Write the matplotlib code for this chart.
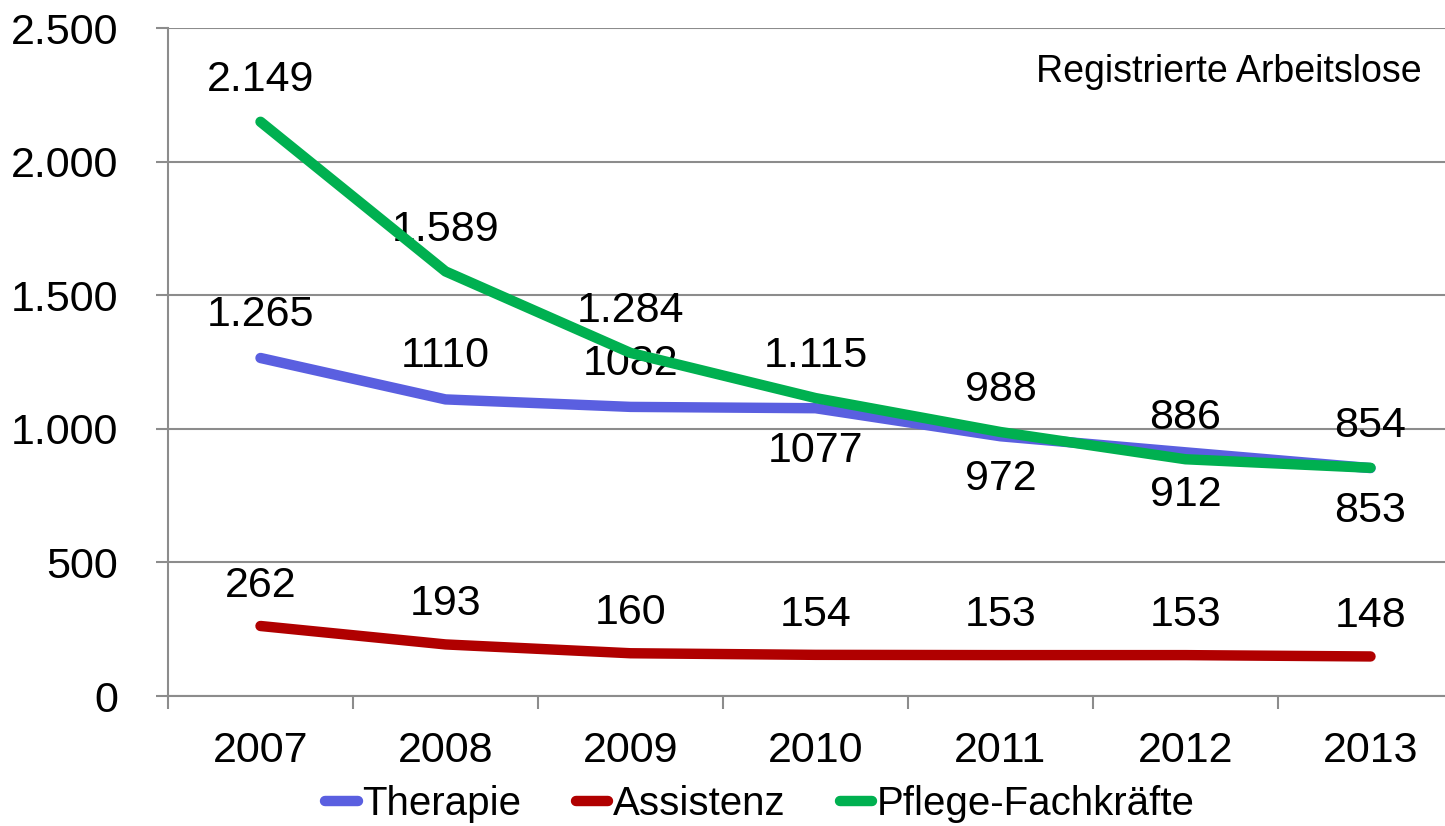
import matplotlib.pyplot as plt
import numpy as np

plt.rcParams['font.family'] = ['Liberation Sans', 'DejaVu Sans']

years = ['2007', '2008', '2009', '2010', '2011', '2012', '2013']
therapie = [1265, 1110, 1082, 1077, 972, 912, 853]
assistenz = [262, 193, 160, 154, 153, 153, 148]
pflege = [2149, 1589, 1284, 1115, 988, 886, 854]

therapie_lbl = ['1.265', '1110', '1082', '1077', '972', '912', '853']
assistenz_lbl = ['262', '193', '160', '154', '153', '153', '148']
pflege_lbl = ['2.149', '1.589', '1.284', '1.115', '988', '886', '854']

# label above (+1) or below (-1) the point
therapie_pos = [1, 1, 1, -1, -1, -1, -1]

c_blue = '#5a5fe0'
c_red = '#b00000'
c_green = '#00b050'

fig = plt.figure(figsize=(14.45, 8.26), dpi=100)
ax = fig.add_axes([168/1445, 1-696/826, 1295/1445, 668/826])

x = np.arange(len(years))
lw = 7.5
ax.plot(x, therapie, color=c_blue, lw=lw, solid_capstyle='round', label='Therapie', zorder=3)
ax.plot(x, assistenz, color=c_red, lw=lw, solid_capstyle='round', label='Assistenz', zorder=3)
ax.plot(x, pflege, color=c_green, lw=lw, solid_capstyle='round', label='Pflege-Fachkräfte', zorder=4)

fs = 31
for i in range(len(years)):
    ax.annotate(pflege_lbl[i], (x[i], pflege[i]), xytext=(0, 30), textcoords='offset points',
                ha='center', va='center', fontsize=fs)
    ax.annotate(assistenz_lbl[i], (x[i], assistenz[i]), xytext=(0, 29), textcoords='offset points',
                ha='center', va='center', fontsize=fs)
    ax.annotate(therapie_lbl[i], (x[i], therapie[i]), xytext=(0, 31 * therapie_pos[i]),
                textcoords='offset points', ha='center', va='center', fontsize=fs)

ax.set_xlim(-0.5, len(years) - 0.5)
ax.set_ylim(0, 2500)
ax.set_yticks(np.arange(0, 2501, 500))
ax.set_yticklabels(['0', '500', '1.000', '1.500', '2.000', '2.500'])
ax.set_xticks(x)
ax.set_xticklabels(years)
ax.set_xticks(np.arange(-0.5, len(years), 1), minor=True)

grid_c = '#8c8c8c'
ax.grid(axis='y', color=grid_c, lw=1.5, zorder=0)
for s in ['top', 'right']:
    ax.spines[s].set_visible(False)
for s in ['left', 'bottom']:
    ax.spines[s].set_color(grid_c)
    ax.spines[s].set_linewidth(1.5)

ax.tick_params(axis='y', length=9, width=1.5, color=grid_c, pad=27, labelsize=fs)
ax.tick_params(axis='x', which='major', length=0, pad=25, labelsize=fs)
ax.tick_params(axis='x', which='minor', length=9, width=1.5, color=grid_c)

fig.text(1422/1445, 1-72/826, 'Registrierte Arbeitslose', ha='right', va='center', fontsize=27)

fig.legend(loc='center', bbox_to_anchor=(760/1445, 1-804/826), ncol=3, frameon=False,
           fontsize=29, handlelength=0.8, handletextpad=0.12, columnspacing=1.35)

fig.savefig('out.png', dpi=100)
